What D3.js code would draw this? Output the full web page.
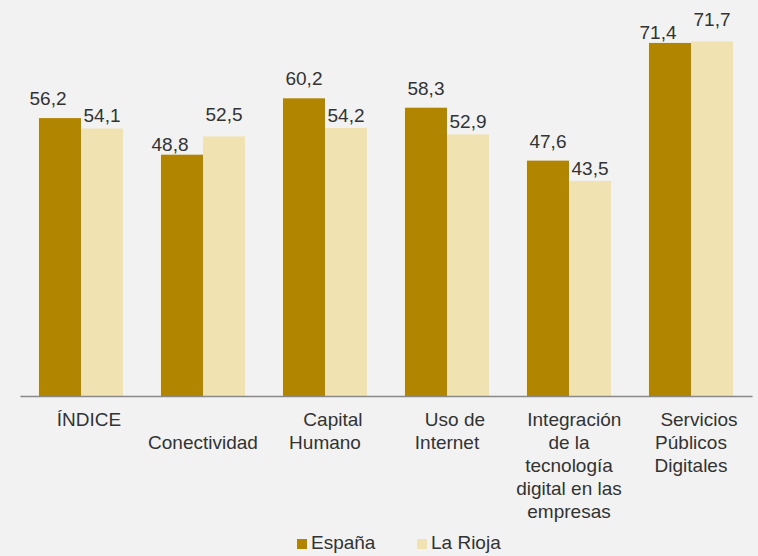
<!DOCTYPE html>
<html><head><meta charset="utf-8">
<script src="https://cdn.jsdelivr.net/npm/d3@7"></script>
<style>
html,body{margin:0;padding:0;background:#f2f2f2;}
svg{display:block;font-family:"Liberation Sans",Arial,sans-serif;}
text{white-space:pre;}
</style></head><body>
<svg id="c" width="758" height="556"></svg>
<script>
const categories = [
  ["   ÍNDICE"],
  ["", "Conectividad"],
  ["   Capital", "Humano"],
  ["   Uso de", "Internet"],
  ["  Integración", "de la", "tecnología", "digital en las", "empresas"],
  ["   Servicios", "Públicos", "Digitales"]
];
const espana = [56.2, 48.8, 60.2, 58.3, 47.6, 71.4];
const rioja = [54.1, 52.5, 54.2, 52.9, 43.5, 71.7];
const seriesNames = ["España", "La Rioja"];
const colors = ["#b18500", "#f1e3b1"];

const svg = d3.select("#c");
const W = 758, H = 556;
const x0 = d3.scaleBand().domain(d3.range(categories.length)).range([20, 752]).paddingInner(0.311).paddingOuter(0.1555);
const x1 = d3.scaleBand().domain([0, 1]).range([0, x0.bandwidth()]);
const y = d3.scaleLinear().domain([0, 80]).range([396, 0.4]);

const fmt = v => d3.format(".1f")(v).replace(".", ",");

const data = categories.map((c, i) => ({i, vals: [espana[i], rioja[i]]}));

const g = svg.append("g");
const groups = g.selectAll("g.grp").data(data).join("g").attr("transform", d => `translate(${x0(d.i)},0)`);
groups.selectAll("rect").data(d => d.vals.map((v, s) => ({v, s}))).join("rect")
  .attr("x", d => x1(d.s)).attr("width", x1.bandwidth())
  .attr("y", d => y(d.v)).attr("height", d => y(0) - y(d.v))
  .attr("fill", d => colors[d.s]);

// value labels
groups.each(function(d) {
  const [e, r] = d.vals;
  const shift = (Math.abs(e - r) < 4 || r > e) ? -12 : 0;
  const swap = r > e;
  const gapE = swap ? 4 : 13, gapR = swap ? 15 : 6;
  const sel = d3.select(this);
  sel.append("text").attr("x", x1(0) + x1.bandwidth() / 2 + shift).attr("y", y(e) - gapE)
    .attr("text-anchor", "middle").attr("font-size", 19).attr("fill", "#333").text(fmt(e));
  sel.append("text").attr("x", x1(1) + x1.bandwidth() / 2).attr("y", y(r) - gapR)
    .attr("text-anchor", "middle").attr("font-size", 19).attr("fill", "#333").text(fmt(r));
});

// axis
const axis = d3.axisBottom(x0).tickSize(0).tickFormat("");
const ax = svg.append("g").attr("transform", "translate(0,396)").call(axis);
ax.select(".domain").attr("stroke", "#898989").attr("stroke-width", 1.5);
ax.selectAll(".tick").each(function(i) {
  const t = d3.select(this).append("text").attr("text-anchor", "middle")
    .attr("font-size", 19).attr("fill", "#333").attr("y", 30);
  categories[i].forEach((line, k) => {
    t.append("tspan").attr("x", 0).attr("y", 30 + k * 23).text(line);
  });
});

// legend
const leg = svg.append("g");
const legX = [297, 417];
seriesNames.forEach((n, s) => {
  leg.append("rect").attr("x", legX[s]).attr("y", 539).attr("width", 10).attr("height", 10).attr("fill", colors[s]);
  leg.append("text").attr("x", legX[s] + 14).attr("y", 549).attr("font-size", 19).attr("fill", "#333").text(n);
});
</script>
</body></html>
